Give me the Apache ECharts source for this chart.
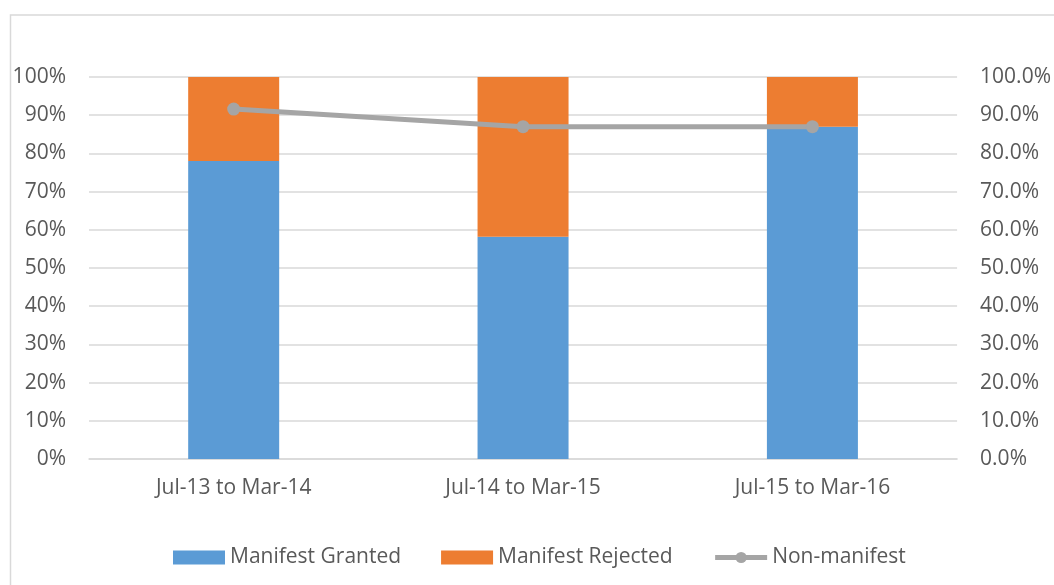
<!DOCTYPE html>
<html>
<head>
<meta charset="utf-8">
<script src="https://cdn.jsdelivr.net/npm/echarts@6/dist/echarts.min.js"></script>
<style>
html,body{margin:0;padding:0;background:#fff;}
#chart{width:1054px;height:585px;}
</style>
</head>
<body>
<div id="chart"></div>
<script>
const categories = ['Jul-13 to Mar-14', 'Jul-14 to Mar-15', 'Jul-15 to Mar-16'];
const manifestGranted = [0.78, 0.582, 0.87];
const manifestRejected = [0.22, 0.418, 0.13];
const nonManifest = [0.916, 0.87, 0.87];
const seriesNames = ['Manifest Granted', 'Manifest Rejected', 'Non-manifest'];

const FONT = 'Open Sans';
const FS = 21;
const TXT = '#595959';
const chart = echarts.init(document.getElementById('chart'), null, {renderer: 'canvas'});
chart.setOption({
  animation: false,
  backgroundColor: '#fff',
  textStyle: {fontFamily: FONT},
  graphic: [{
    type: 'rect', left: 8, top: 12.5, silent: true,
    shape: {width: 1100, height: 620},
    style: {fill: 'none', stroke: '#D9D9D9', lineWidth: 1.5}
  }],
  grid: {left: 89, right: 94, top: 77, bottom: 126, containLabel: false},
  legend: {
    bottom: 12, left: 168,
    itemWidth: 52, itemHeight: 14, itemGap: 40,
    textStyle: {color: TXT, fontSize: FS, fontFamily: FONT},
    data: [
      {name: seriesNames[0], icon: 'rect'},
      {name: seriesNames[1], icon: 'rect'},
      {name: seriesNames[2], lineStyle: {width: 5, color: '#A5A5A5'}}
    ]
  },
  xAxis: {
    type: 'category', data: categories,
    axisLine: {show: true, lineStyle: {color: '#D9D9D9', width: 1.5}},
    axisTick: {show: false},
    axisLabel: {color: TXT, fontSize: FS, fontFamily: FONT, margin: 19}
  },
  yAxis: [{
    type: 'value', min: 0, max: 1, interval: 0.1,
    axisLine: {show: false}, axisTick: {show: false},
    splitLine: {lineStyle: {color: '#D9D9D9', width: 1.5}},
    axisLabel: {color: TXT, fontSize: FS, fontFamily: FONT, margin: 23,
      formatter: v => Math.round(v * 100) + '%'}
  }, {
    type: 'value', min: 0, max: 1, interval: 0.1, position: 'right',
    axisLine: {show: false}, axisTick: {show: false},
    splitLine: {show: false},
    axisLabel: {color: TXT, fontSize: FS, fontFamily: FONT, margin: 23,
      formatter: v => (v * 100).toFixed(1) + '%'}
  }],
  series: [{
    name: seriesNames[0], type: 'bar', stack: 'total', data: manifestGranted,
    barWidth: 91, itemStyle: {color: '#5B9BD5'}
  }, {
    name: seriesNames[1], type: 'bar', stack: 'total', data: manifestRejected,
    barWidth: 91, itemStyle: {color: '#ED7D31'}
  }, {
    name: seriesNames[2], type: 'line', yAxisIndex: 1, data: nonManifest,
    symbol: 'circle', symbolSize: 13,
    lineStyle: {color: '#A5A5A5', width: 5},
    itemStyle: {color: '#A5A5A5'}
  }]
});
</script>
</body>
</html>
